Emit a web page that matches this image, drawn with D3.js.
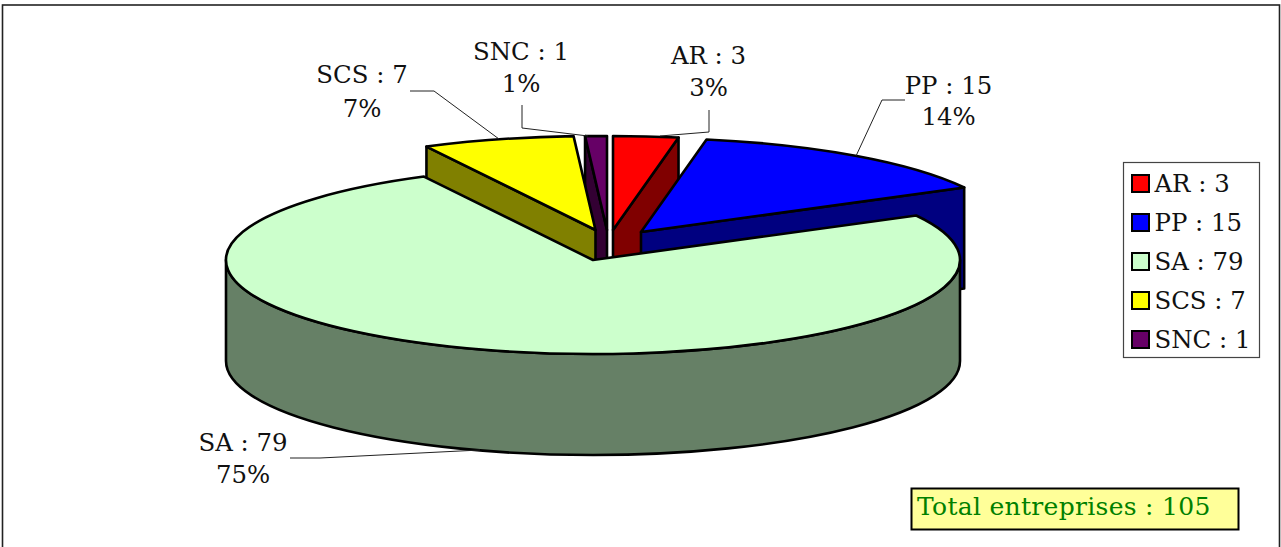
<!DOCTYPE html>
<html><head><meta charset="utf-8">
<style>html,body{margin:0;padding:0;background:#fff;overflow:hidden}svg{display:block}text{font-family:"DejaVu Serif",serif;font-size:24.4px;fill:#111}</style>
<script src="https://cdn.jsdelivr.net/npm/d3@7/dist/d3.min.js"></script></head><body>
<script>
const categories = ["AR", "PP", "SA", "SCS", "SNC"];
const values = [3, 15, 79, 7, 1];
const percents = ["3%", "14%", "75%", "7%", "1%"];
const topColors = ["#ff0000", "#0000ff", "#ccffcc", "#ffff00", "#660066"];
const wallColors = ["#800000", "#000080", "#668066", "#808000", "#330033"];
const total = "Total entreprises : 105";

const W = 1281, H = 547;
const svg = d3.select("body").append("svg").attr("width", W).attr("height", H);
svg.append("rect").attr("x",2.5).attr("y",5).attr("width",1277).attr("height",560).attr("fill","#fff").attr("stroke","#222").attr("stroke-width",1.6);

const rx = 367, ry = 94, depth = 101;
const unitX = d3.scaleLinear().domain([-1,1]).range([-rx,rx]);
const unitY = d3.scaleLinear().domain([-1,1]).range([-ry,ry]);
const apex = [[613,230],[641,232],[593,260],[595.5,230],[607,230]];
const drawOrder = [4,0,1,3];
const arcs = d3.pie().sort(null).value(d=>d)(values);
const pt = (c,a,dy=0)=>[c[0]+unitX(Math.sin(a)), c[1]-unitY(Math.cos(a))+dy];
function topPath(c,a0,a1){
  const s=pt(c,a0), e=pt(c,a1);
  return `M${c}L${s}A${rx} ${ry} 0 ${a1-a0>Math.PI?1:0} 1 ${e}Z`;
}
function edgeWall(c,a){
  const s=pt(c,a), s2=pt(c,a,depth);
  return `M${c}L${s}L${s2}L${c[0]},${c[1]+depth}Z`;
}
const g = svg.append("g").attr("stroke","#000").attr("stroke-width",2.6).attr("stroke-linejoin","round");
drawOrder.forEach(i=>{
  const a=arcs[i], c=apex[i];
  const wallAngle = i>=3 ? a.startAngle : a.endAngle;
  g.append("path").attr("d",edgeWall(c,wallAngle)).attr("fill",wallColors[i]);
  g.append("path").attr("d",topPath(c,a.startAngle,a.endAngle)).attr("fill",topColors[i]);
});
const sa=arcs[2], c=apex[2];
const L=[c[0]-rx,c[1]], R=[c[0]+rx,c[1]];
g.append("path").attr("fill",wallColors[2])
 .attr("d",`M${L}A${rx} ${ry} 0 0 0 ${R}L${R[0]},${R[1]+depth}A${rx} ${ry} 0 0 1 ${L[0]},${L[1]+depth}Z`);
g.append("path").attr("fill",topColors[2]).attr("d",topPath(c,sa.startAngle,sa.endAngle));

const labels=[
 {i:0,x:708.5,y1:64,y2:96,line:[[709,110],[709,132],[660,136]]},
 {i:1,x:948.5,y1:94,y2:125,line:[[905,100],[882,100],[856,156]]},
 {i:2,x:243,y1:451,y2:483,line:[[290,458],[320,458],[480,450]]},
 {i:3,x:362,y1:83,y2:117,line:[[410,91],[434,91],[499,139]]},
 {i:4,x:521,y1:60,y2:92,line:[[522,105],[522,128],[588,136]]}];
const lineGen=d3.line();
labels.forEach(l=>{
  svg.append("path").attr("d",lineGen(l.line)).attr("fill","none").attr("stroke","#222").attr("stroke-width",1);
  svg.append("text").attr("x",l.x).attr("y",l.y1).attr("text-anchor","middle").text(`${categories[l.i]} : ${values[l.i]}`);
  svg.append("text").attr("x",l.x).attr("y",l.y2).attr("text-anchor","middle").text(percents[l.i]);
});

const lg=svg.append("g");
lg.append("rect").attr("x",1123.5).attr("y",162.5).attr("width",136).attr("height",195).attr("fill","#fff").attr("stroke","#444").attr("stroke-width",1.2);
const ly=d3.scalePoint().domain(categories).range([183,339]);
categories.forEach((k,i)=>{
  lg.append("rect").attr("x",1132).attr("y",ly(k)-8).attr("width",17).attr("height",17).attr("fill",topColors[i]).attr("stroke","#000").attr("stroke-width",2);
  lg.append("text").attr("x",1154.5).attr("y",ly(k)+8.5).text(`${k} : ${values[i]}`);
});
svg.append("rect").attr("x",911.5).attr("y",488.5).attr("width",327).attr("height",41).attr("fill","#ffff99").attr("stroke","#000").attr("stroke-width",2);
svg.append("text").attr("x",917).attr("y",515).style("fill","#008000").style("font-size","25px").style("letter-spacing","0.3px").text(total);
</script></body></html>
